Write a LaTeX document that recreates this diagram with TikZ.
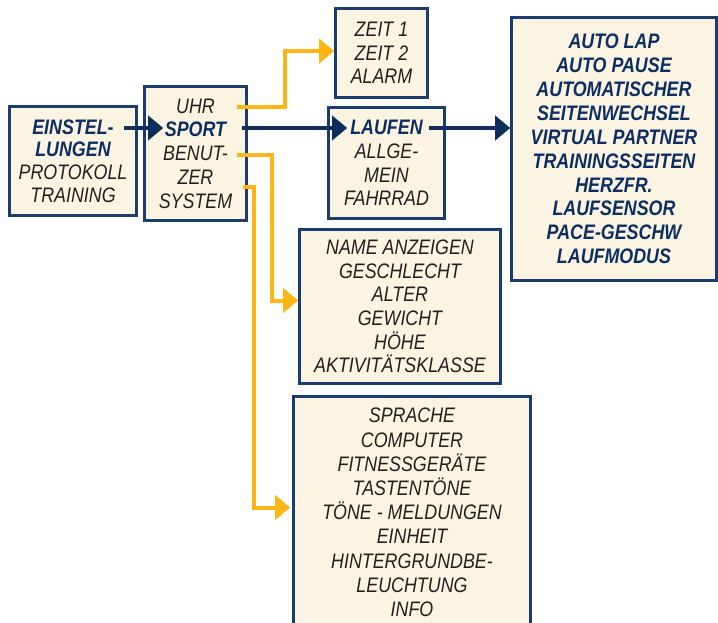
\documentclass[tikz,border=0pt]{standalone}
\usepackage{fontspec}
\newfontfamily\labfont{Liberation Sans}[FakeStretch=0.85]
\usetikzlibrary{arrows.meta}
\definecolor{navyline}{HTML}{0E2E5E}
\definecolor{boxborder}{HTML}{1A3C6E}
\definecolor{boxfill}{HTML}{FCF4E3}
\definecolor{goldline}{HTML}{FDB515}
\definecolor{txtgray}{HTML}{231F20}
\definecolor{txtnavy}{HTML}{0C2F63}
\newcommand\navybf[1]{{\bfseries\color{txtnavy}#1}}
\begin{document}
\begin{tikzpicture}[x=1pt,y=-1pt,
  menubox/.style={draw=boxborder, line width=2.6pt, fill=boxfill, inner sep=0pt,
    align=center, text=txtgray, font=\labfont\itshape\fontsize{21}{23.7}\selectfont},
  navyarr/.style={draw=navyline, line width=4pt, -{Triangle[length=15pt,width=24pt]}},
  goldarr/.style={draw=goldline, line width=4pt, -{Triangle[length=15pt,width=24pt]}}]
\useasboundingbox (0,0) rectangle (718,623);
\clip (0,0) rectangle (718,623);

\node[menubox, minimum width=127, minimum height=109,
  font=\labfont\itshape\fontsize{21}{22.8}\selectfont] (A) at (73,161)
  {\navybf{EINSTEL-}\\\navybf{LUNGEN}\\PROTOKOLL\\TRAINING};
\node[menubox, minimum width=102, minimum height=134] (B) at (195.5,153.5)
  {UHR\\\navybf{SPORT}\\BENUT-\\ZER\\SYSTEM};
\node[menubox, minimum width=92, minimum height=89] (Z) at (381.5,53)
  {ZEIT 1\\ZEIT 2\\ALARM};
\node[menubox, minimum width=116, minimum height=111] (L) at (386.5,163)
  {\navybf{LAUFEN}\\ALLGE-\\MEIN\\FAHRRAD};
\node[menubox, minimum width=205, minimum height=263, text=txtnavy,
  font=\labfont\itshape\bfseries\fontsize{21}{23.9}\selectfont] (AU) at (614,149)
  {AUTO LAP\\AUTO PAUSE\\AUTOMATISCHER\\SEITENWECHSEL\\VIRTUAL PARTNER\\TRAININGSSEITEN\\HERZFR.\\LAUFSENSOR\\PACE-GESCHW\\LAUFMODUS};
\node[menubox, minimum width=201, minimum height=154] (N) at (400,306.5)
  {NAME ANZEIGEN\\GESCHLECHT\\ALTER\\GEWICHT\\HÖHE\\AKTIVITÄTSKLASSE};
\node[menubox, minimum width=237, minimum height=232,
  font=\labfont\itshape\fontsize{21}{24.2}\selectfont] (S) at (412,512.5)
  {SPRACHE\\COMPUTER\\FITNESSGERÄTE\\TASTENTÖNE\\TÖNE - MELDUNGEN\\EINHEIT\\HINTERGRUNDBE-\\LEUCHTUNG\\INFO};

\coordinate (rowuhr) at (0,107);
\coordinate (rowsport) at (0,128);
\coordinate (rowben) at (0,155);
\coordinate (rowsys) at (0,187);

\draw[navyarr] ([xshift=-14pt]A.east |- rowsport) -- ([xshift=20pt]B.west |- rowsport);
\draw[navyarr] ([xshift=-6pt]B.east |- rowsport) -- ([xshift=20pt]L.west |- rowsport);
\draw[navyarr] ([xshift=-17pt]L.east |- rowsport) -- (AU.west |- rowsport);

\draw[goldarr] ([xshift=-11pt]B.east |- rowuhr) -| ([xshift=-49pt,yshift=2pt]Z.west) -- ([yshift=2pt]Z.west);
\draw[goldarr] ([xshift=-11pt]B.east |- rowben) -| ([xshift=-26pt,yshift=6pt]N.west) -- ([yshift=6pt]N.west);
\draw[goldarr] ([xshift=-5pt]B.east |- rowsys) -| ([xshift=-38pt,yshift=5pt]S.west) -- ([xshift=-2pt,yshift=5pt]S.west);
\end{tikzpicture}
\end{document}
